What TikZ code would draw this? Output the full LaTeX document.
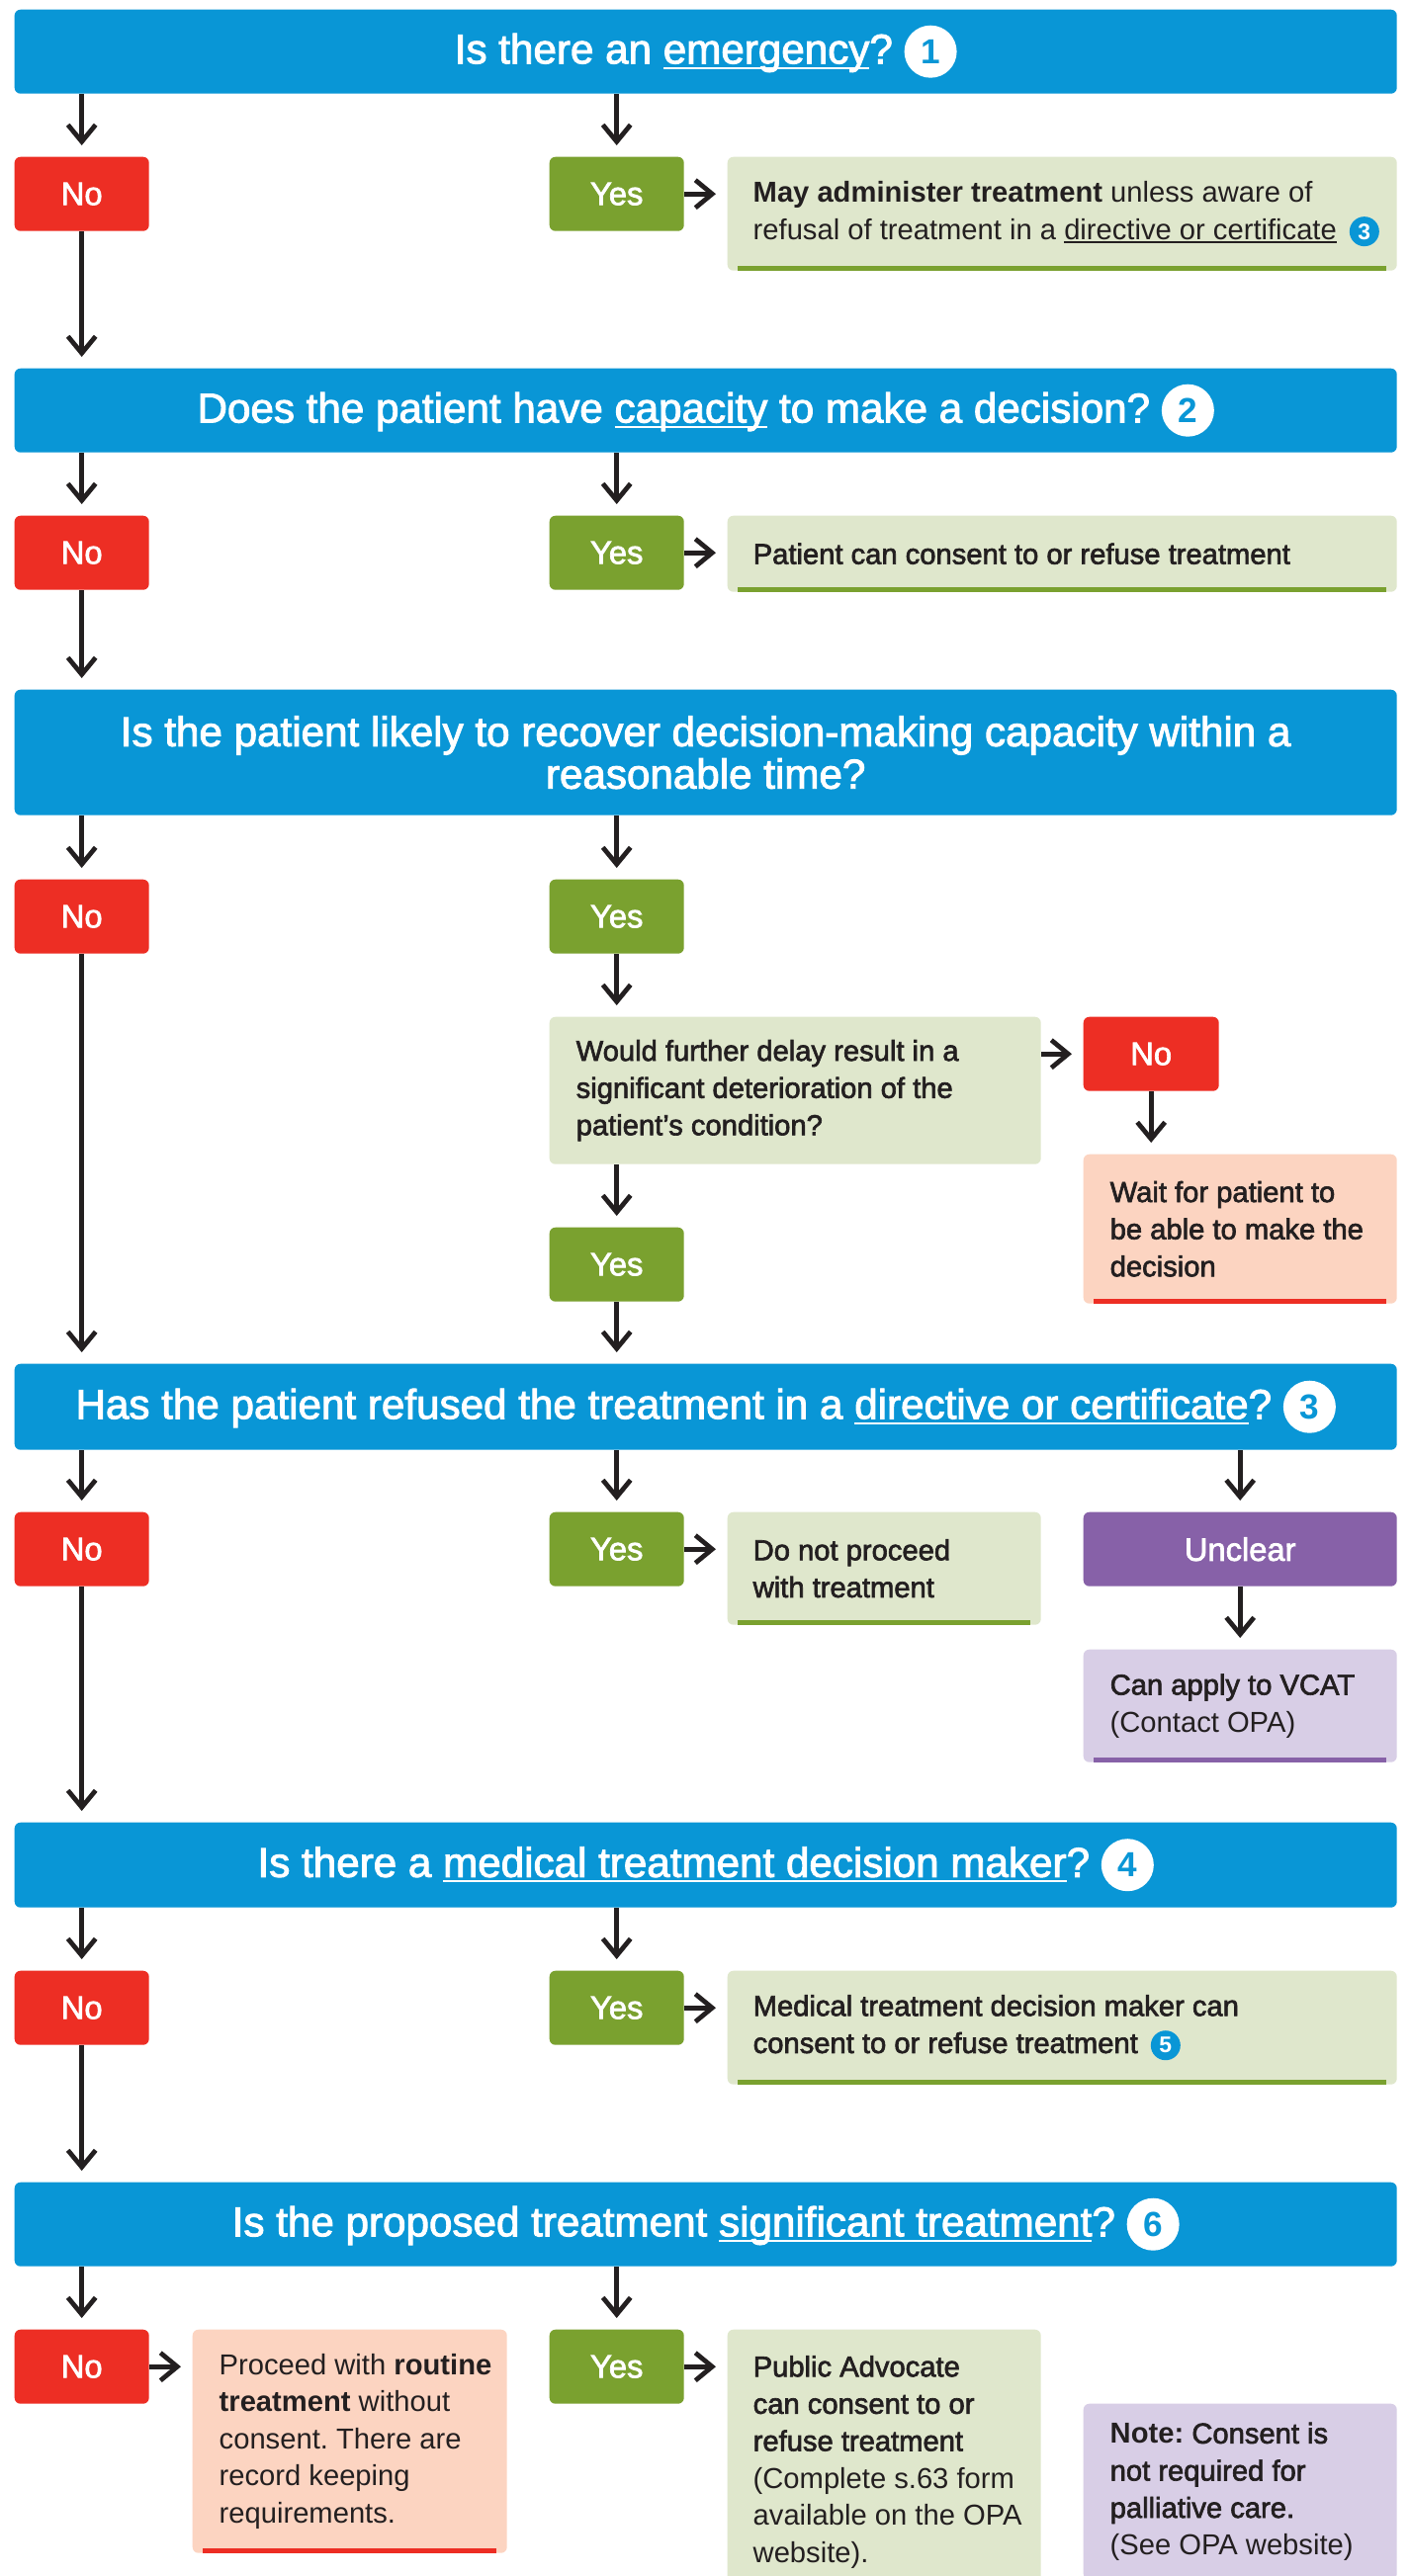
\documentclass[tikz,border=0pt]{standalone}
\usepackage{fontspec}
\setmainfont{Liberation Sans}
\newfontfamily\medfont[FakeBold=2.2]{Liberation Sans}
\usetikzlibrary{arrows.meta}
\frenchspacing

\definecolor{opablue}{RGB}{9,150,214}
\definecolor{opared}{RGB}{237,46,36}
\definecolor{opagreen}{RGB}{122,161,47}
\definecolor{palegreen}{RGB}{223,231,204}
\definecolor{salmon}{RGB}{252,212,193}
\definecolor{opapurple}{RGB}{135,97,168}
\definecolor{lilac}{RGB}{216,206,230}
\definecolor{ink}{RGB}{35,31,32}

\newcommand{\bodysize}{\fontsize{8.3}{10.7}\selectfont}
\newcommand{\lt}[1]{{\rmfamily #1}}
\newsavebox{\ulbox}
\newcommand{\uln}[1]{\sbox{\ulbox}{#1}\rlap{\rule[-0.24ex]{\wd\ulbox}{0.09ex}}\usebox{\ulbox}}
\newcommand{\hnum}[1]{\tikz[baseline=(n.base)]\node[hnumc] (n) {#1};}
\newcommand{\inum}[1]{\tikz[baseline=(n.base)]\node[inumc] (n) {#1};}

\tikzset{
  hdr/.style={anchor=north west, fill=opablue, text=white, rounded corners=0.6mm,
    minimum width=13.98cm, minimum height=0.85cm, align=center, inner sep=0pt,
    font=\medfont\fontsize{12}{12.2}\selectfont},
  tag/.style={anchor=north west, text=white, rounded corners=0.6mm, minimum width=1.36cm,
    minimum height=0.75cm, inner sep=0pt, font=\medfont\fontsize{9.3}{10}\selectfont},
  nobox/.style={tag, fill=opared},
  yesbox/.style={tag, fill=opagreen},
  box/.style={anchor=north west, rounded corners=0.6mm, inner sep=0pt, fill=#1},
  txt/.style={anchor=west, align=left, inner sep=0pt, text=ink, font=\medfont\bodysize},
  ltxt/.style={txt, font=\rmfamily\bodysize},
  bar/.style={line width=0.05cm, draw=#1},
  arr/.style={draw=ink, line width=1.35pt, -{Straight Barb[length=1.7mm,width=2.8mm]}, shorten >=0.11cm},
  hnumc/.style={circle, fill=white, text=opablue, inner sep=0pt, minimum size=0.53cm,
    font=\rmfamily\bfseries\fontsize{10}{10}\selectfont},
  inumc/.style={circle, fill=opablue, text=white, inner sep=0pt, minimum size=0.30cm,
    font=\rmfamily\bfseries\fontsize{6.5}{6.5}\selectfont},
}

\begin{document}
\begin{tikzpicture}
  \useasboundingbox (0,0) rectangle (14.26,-26.06);
  \clip (0,0) rectangle (14.26,-26.06);
  \fill[white] (0,0) rectangle (14.26,-26.06);

  \node[hdr] (h1) at (0.14,-0.09) {Is there an \uln{emergency}? \hnum{1}};
  \node[nobox] (no1) at (0.14,-1.58) {No};
  \node[yesbox] (yes1) at (5.55,-1.58) {Yes};
  \node[box=palegreen, minimum width=6.77cm, minimum height=1.15cm] (info1) at (7.35,-1.58) {};
  \node[ltxt] (info1t) at ([xshift=0.26cm]info1.west)
    {\textbf{May administer treatment} unless aware of\\ refusal of treatment in a \uln{directive or certificate}\, \inum{3}};

  \node[hdr] (h2) at (0.14,-3.72) {Does the patient have \uln{capacity} to make a decision? \hnum{2}};
  \node[nobox] (no2) at (0.14,-5.21) {No};
  \node[yesbox] (yes2) at (5.55,-5.21) {Yes};
  \node[box=palegreen, minimum width=6.77cm, minimum height=0.77cm] (info2) at (7.35,-5.21) {};
  \node[txt] (info2t) at ([xshift=0.26cm]info2.west) {Patient can consent to or refuse treatment};

  \node[hdr, minimum height=1.27cm] (h3) at (0.14,-6.97)
    {Is the patient likely to recover decision-making capacity within a\\ reasonable time?};
  \node[nobox] (no3) at (0.14,-8.89) {No};
  \node[yesbox] (yes3) at (5.55,-8.89) {Yes};
  \node[box=palegreen, minimum width=4.97cm, minimum height=1.49cm] (delay) at (5.55,-10.28) {};
  \node[txt] (delayt) at ([xshift=0.27cm]delay.west)
    {Would further delay result in a\\ significant deterioration of the\\ patient’s condition?};
  \node[nobox, minimum width=1.37cm] (nodelay) at (10.95,-10.28) {No};
  \node[box=salmon, minimum width=3.17cm, minimum height=1.51cm] (wait) at (10.95,-11.67) {};
  \node[txt] (waitt) at ([xshift=0.27cm]wait.west) {Wait for patient to\\ be able to make the\\ decision};
  \node[yesbox] (yesdelay) at (5.55,-12.41) {Yes};

  \node[hdr, minimum height=0.87cm] (h4) at (0.14,-13.79)
    {Has the patient refused the treatment in a \uln{directive or certificate}? \hnum{3}};
  \node[nobox] (no4) at (0.14,-15.29) {No};
  \node[yesbox] (yes4) at (5.55,-15.29) {Yes};
  \node[box=palegreen, minimum width=3.17cm, minimum height=1.14cm] (stop) at (7.35,-15.29) {};
  \node[txt] (stopt) at ([xshift=0.26cm]stop.west) {Do not proceed\\ with treatment};
  \node[tag, fill=opapurple, minimum width=3.17cm] (unclear) at (10.95,-15.29) {Unclear};
  \node[box=lilac, minimum width=3.17cm, minimum height=1.14cm] (vcat) at (10.95,-16.68) {};
  \node[txt] (vcatt) at ([xshift=0.27cm]vcat.west) {Can apply to VCAT\\ \lt{(Contact OPA)}};

  \node[hdr, minimum height=0.86cm] (h5) at (0.14,-18.43)
    {Is there a \uln{medical treatment decision maker}? \hnum{4}};
  \node[nobox] (no5) at (0.14,-19.93) {No};
  \node[yesbox] (yes5) at (5.55,-19.93) {Yes};
  \node[box=palegreen, minimum width=6.77cm, minimum height=1.15cm] (info5) at (7.35,-19.93) {};
  \node[txt] (info5t) at ([xshift=0.26cm]info5.west)
    {Medical treatment decision maker can\\ consent to or refuse treatment\, \inum{5}};

  \node[hdr] (h6) at (0.14,-22.07) {Is the proposed treatment \uln{significant treatment}? \hnum{6}};
  \node[nobox] (no6) at (0.14,-23.56) {No};
  \node[yesbox] (yes6) at (5.55,-23.56) {Yes};
  \node[box=salmon, minimum width=3.18cm, minimum height=2.26cm] (routine) at (1.94,-23.56) {};
  \node[ltxt] (routinet) at ([xshift=0.27cm]routine.west)
    {Proceed with \textbf{routine}\\ \textbf{treatment} without\\ consent. There are\\ record keeping\\ requirements.};
  \node[box=palegreen, minimum width=3.17cm, minimum height=2.68cm] (advocate) at (7.35,-23.56) {};
  \node[txt] (advocatet) at ([xshift=0.26cm]advocate.west)
    {Public Advocate\\ can consent to or\\ refuse treatment\\ \lt{(Complete s.63 form}\\ \lt{available on the OPA}\\ \lt{website).}};
  \node[box=lilac, minimum width=3.17cm, minimum height=1.78cm] (note) at (10.95,-24.31) {};
  \node[txt] (notet) at ([xshift=0.27cm]note.west)
    {\lt{\textbf{Note:}} Consent is\\ not required for\\ palliative care.\\ \lt{(See OPA website)}};

  \draw[bar=opagreen] ([xshift=0.11cm,yshift=0.025cm]info1.south west) -- ([xshift=-0.11cm,yshift=0.025cm]info1.south east);
  \draw[bar=opagreen] ([xshift=0.11cm,yshift=0.025cm]info2.south west) -- ([xshift=-0.11cm,yshift=0.025cm]info2.south east);
  \draw[bar=opared] ([xshift=0.11cm,yshift=0.025cm]wait.south west) -- ([xshift=-0.11cm,yshift=0.025cm]wait.south east);
  \draw[bar=opagreen] ([xshift=0.11cm,yshift=0.025cm]stop.south west) -- ([xshift=-0.11cm,yshift=0.025cm]stop.south east);
  \draw[bar=opapurple] ([xshift=0.11cm,yshift=0.025cm]vcat.south west) -- ([xshift=-0.11cm,yshift=0.025cm]vcat.south east);
  \draw[bar=opagreen] ([xshift=0.11cm,yshift=0.025cm]info5.south west) -- ([xshift=-0.11cm,yshift=0.025cm]info5.south east);
  \draw[bar=opared] ([xshift=0.11cm,yshift=0.025cm]routine.south west) -- ([xshift=-0.11cm,yshift=0.025cm]routine.south east);

  \begin{scope}[arr]
    \draw (no1 |- h1.south) -- (no1.north);
    \draw (yes1 |- h1.south) -- (yes1.north);
    \draw (yes1.east) -- (yes1.east -| info1.west);
    \draw (no1.south) -- (no1 |- h2.north);
    \draw (no2 |- h2.south) -- (no2.north);
    \draw (yes2 |- h2.south) -- (yes2.north);
    \draw (yes2.east) -- (yes2.east -| info2.west);
    \draw (no2.south) -- (no2 |- h3.north);
    \draw (no3 |- h3.south) -- (no3.north);
    \draw (yes3 |- h3.south) -- (yes3.north);
    \draw (yes3.south) -- (yes3 |- delay.north);
    \draw (delay.east |- nodelay.west) -- (nodelay.west);
    \draw (nodelay.south) -- (nodelay |- wait.north);
    \draw (yesdelay |- delay.south) -- (yesdelay.north);
    \draw (yesdelay.south) -- (yesdelay |- h4.north);
    \draw (no3.south) -- (no3 |- h4.north);
    \draw (no4 |- h4.south) -- (no4.north);
    \draw (yes4 |- h4.south) -- (yes4.north);
    \draw (unclear |- h4.south) -- (unclear.north);
    \draw (yes4.east) -- (yes4.east -| stop.west);
    \draw (unclear.south) -- (unclear |- vcat.north);
    \draw (no4.south) -- (no4 |- h5.north);
    \draw (no5 |- h5.south) -- (no5.north);
    \draw (yes5 |- h5.south) -- (yes5.north);
    \draw (yes5.east) -- (yes5.east -| info5.west);
    \draw (no5.south) -- (no5 |- h6.north);
    \draw (no6 |- h6.south) -- (no6.north);
    \draw (yes6 |- h6.south) -- (yes6.north);
    \draw (no6.east) -- (no6.east -| routine.west);
    \draw (yes6.east) -- (yes6.east -| advocate.west);
  \end{scope}
\end{tikzpicture}
\end{document}
